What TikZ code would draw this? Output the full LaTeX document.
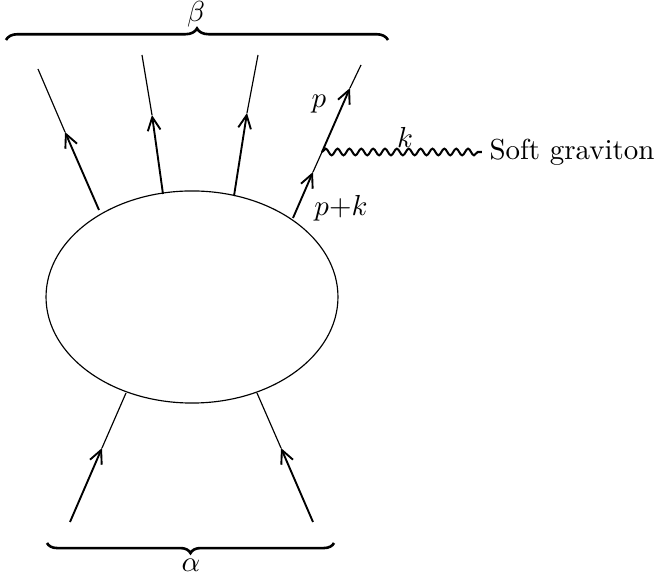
\documentclass[tikz,border=0pt]{standalone}
\usetikzlibrary{arrows.meta,shapes.geometric,decorations.pathreplacing,decorations.pathmorphing}
\begin{document}
\begin{tikzpicture}[x=0.3456pt,y=-0.3456pt,
  thin line/.style={line width=0.4pt},
  thick line/.style={line width=0.65pt,-{Straight Barb[length=4.6pt,width=4.4pt,line width=0.65pt]}},
  bracestyle/.style={line width=0.9pt,decorate,decoration={brace,amplitude=4pt}},
  wave/.style={line width=0.7pt,decorate,decoration={snake,segment length=4.1pt,amplitude=1.15pt}},
  lbl/.style={inner sep=0pt}]
\useasboundingbox (0,0) rectangle (654,574);
\node[ellipse,draw,line width=0.4pt,minimum width=100.9pt,minimum height=73.3pt,inner sep=0pt] (blob) at (192,297) {};
% outgoing lines
\coordinate (o1) at (99,210);  \coordinate (t1) at (65,132);  \coordinate (e1) at (38,69);
\coordinate (o2) at (163,194); \coordinate (t2) at (152,115); \coordinate (e2) at (142,55);
\coordinate (o3) at (234,196); \coordinate (t3) at (247,113); \coordinate (e3) at (258,55);
\coordinate (o4) at (293,218); \coordinate (t4) at (313,172); \coordinate (v) at (322,152);
\coordinate (t5) at (350,88);  \coordinate (e4) at (361,65);
\draw[thick line] (o1) -- (t1); \draw[thin line] (t1) -- (e1);
\draw[thick line] (o2) -- (t2); \draw[thin line] (t2) -- (e2);
\draw[thick line] (o3) -- (t3); \draw[thin line] (t3) -- (e3);
\draw[thick line] (o4) -- (t4); \draw[thin line] (t4) -- (v);
\draw[thick line] (v) -- (t5); \draw[thin line] (t5) -- (e4);
% graviton
\node[anchor=west,inner sep=0pt] (sg) at (489,152) {Soft graviton};
\coordinate (we) at (482,152);
\draw[wave] (v) -- (we);
\node[lbl] (lk) at (405,137) {$k$};
\node[lbl] (lp) at (319,104) {$p$};
\node[lbl] (lpk) at (341,208) {$p{+}k$};
% incoming lines
\coordinate (i1) at (126,393); \coordinate (s1) at (102,448); \coordinate (b1) at (70,522);
\coordinate (i2) at (257,393); \coordinate (s2) at (281,448); \coordinate (b2) at (313,522);
\draw[thick line] (b1) -- (s1); \draw[thin line] (s1) -- (i1);
\draw[thick line] (b2) -- (s2); \draw[thin line] (s2) -- (i2);
% braces
\coordinate (bl) at (6,40); \coordinate (br) at (388,40);
\draw[bracestyle] (bl) -- (br);
\node[lbl] (beta) at (196,14) {$\beta$};
\coordinate (al) at (47,543); \coordinate (ar) at (334,543);
\draw[bracestyle,decoration={brace,amplitude=3.5pt}] (ar) -- (al);
\node[lbl] (alpha) at (191,565) {$\alpha$};
\end{tikzpicture}
\end{document}
